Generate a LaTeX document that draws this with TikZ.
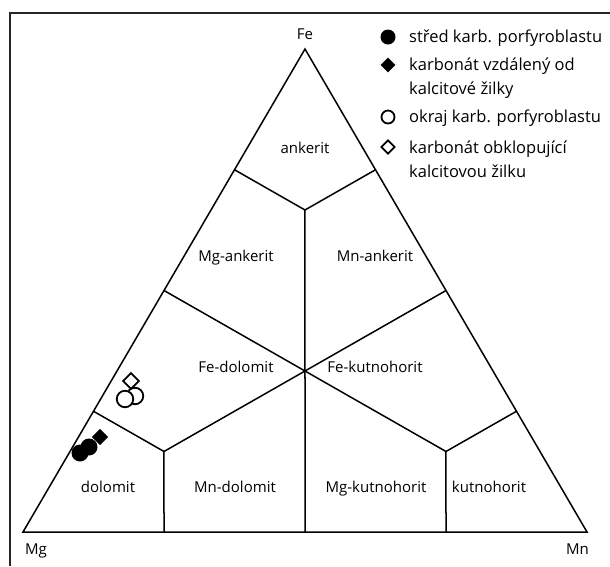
\documentclass[tikz,border=0pt]{standalone}
\usepackage{fontspec}
\setmainfont{Open Sans}
\usetikzlibrary{shapes.geometric}
\begin{document}
\begin{tikzpicture}[x=1pt,y=-1pt,
  edge/.style={line width=1.5pt, line join=miter},
  frame/.style={line width=2.8pt, draw=black!85},
  lbl/.style={anchor=base, inner sep=0, font=\fontsize{15}{18}\selectfont},
  leg/.style={anchor=base west, inner sep=0, align=left, font=\fontsize{16.5}{23.5}\selectfont},
  fdot/.style={circle, fill=black, inner sep=0, minimum size=15pt},
  odot/.style={circle, draw=black, fill=white, line width=1.8pt, inner sep=0, minimum size=13pt},
  fdia/.style={diamond, fill=black, inner sep=0, minimum size=15pt},
  odia/.style={diamond, draw=black, fill=white, line width=1.8pt, inner sep=0, minimum size=14pt},
  big/.style={minimum size=16.5pt}]
\useasboundingbox (0,0) rectangle (610,566);
% frame
\draw[frame] (10,566) -- (10,13) -- (610,13);
% corners
\coordinate (Mg) at (23,532);
\coordinate (Mn) at (587,532);
\coordinate (Fe) at (305,49);
% inner points
\coordinate (C)  at (barycentric cs:Fe=1,Mg=1,Mn=1);
\coordinate (T)  at (barycentric cs:Fe=4,Mg=1,Mn=1);
\coordinate (BL) at (barycentric cs:Fe=1,Mg=4,Mn=1);
\coordinate (BR) at (barycentric cs:Fe=1,Mg=1,Mn=4);
\coordinate (qL1) at (barycentric cs:Mg=3,Fe=1);
\coordinate (qL2) at (barycentric cs:Mg=1,Fe=1);
\coordinate (qL3) at (barycentric cs:Mg=1,Fe=3);
\coordinate (qR1) at (barycentric cs:Mn=3,Fe=1);
\coordinate (qR2) at (barycentric cs:Mn=1,Fe=1);
\coordinate (qR3) at (barycentric cs:Mn=1,Fe=3);
\coordinate (b1) at (barycentric cs:Mg=3,Mn=1);
\coordinate (b2) at (barycentric cs:Mg=1,Mn=1);
\coordinate (b3) at (barycentric cs:Mg=1,Mn=3);
% triangle and fields
\draw[edge] (Mg) -- (Mn) -- (Fe) -- cycle;
\draw[edge] (qL3) -- (T) -- (qR3);
\draw[edge] (T) -- (C) -- (b2);
\draw[edge] (qL2) -- (C) -- (qR2);
\draw[edge] (qL1) -- (BL) -- (C) -- (BR) -- (qR1);
\draw[edge] (BL) -- (b1);
\draw[edge] (BR) -- (b3);
% corner labels
\node[lbl] (lFe) at (305,39) {Fe};
\node[lbl, anchor=base west] (lMg) at (25,554) {Mg};
\node[lbl, anchor=base east] (lMn) at (589,554) {Mn};
% field labels
\node[lbl] (f1) at (305,153) {ankerit};
\node[lbl] (f2) at (236,261) {Mg-ankerit};
\node[lbl] (f3) at (375,261) {Mn-ankerit};
\node[lbl] (f4) at (236,372) {Fe-dolomit};
\node[lbl] (f5) at (375,372) {Fe-kutnohorit};
\node[lbl] (f6) at (108,492) {dolomit};
\node[lbl] (f7) at (235,492) {Mn-dolomit};
\node[lbl] (f8) at (376,492) {Mg-kutnohorit};
\node[lbl] (f9) at (489,492) {kutnohorit};
% data points
\node[odia, big] (p1) at (131,381) {};
\node[odot, big] (p2) at (135,396) {};
\node[odot, big] (p3) at (125,399) {};
\node[fdia, big] (p4) at (100,437) {};
\node[fdot, minimum size=17pt] (p5) at (89,447) {};
\node[fdot, minimum size=17pt] (p6) at (80,453) {};
% legend
\node[fdot] (m1) at (388,37) {};
\node[leg] (t1) at (409,42.3) {střed karb. porfyroblastu};
\node[fdia] (m2) at (388,65) {};
\node[leg] (t2) at (409,94) {karbonát vzdálený od\\kalcitové žilky};
\node[odot] (m3) at (388,117) {};
\node[leg] (t3) at (409,122.7) {okraj karb. porfyroblastu};
\node[odia] (m4) at (388,147) {};
\node[leg] (t4) at (409,177.3) {karbonát obklopující\\kalcitovou žilku};
\end{tikzpicture}
\end{document}
